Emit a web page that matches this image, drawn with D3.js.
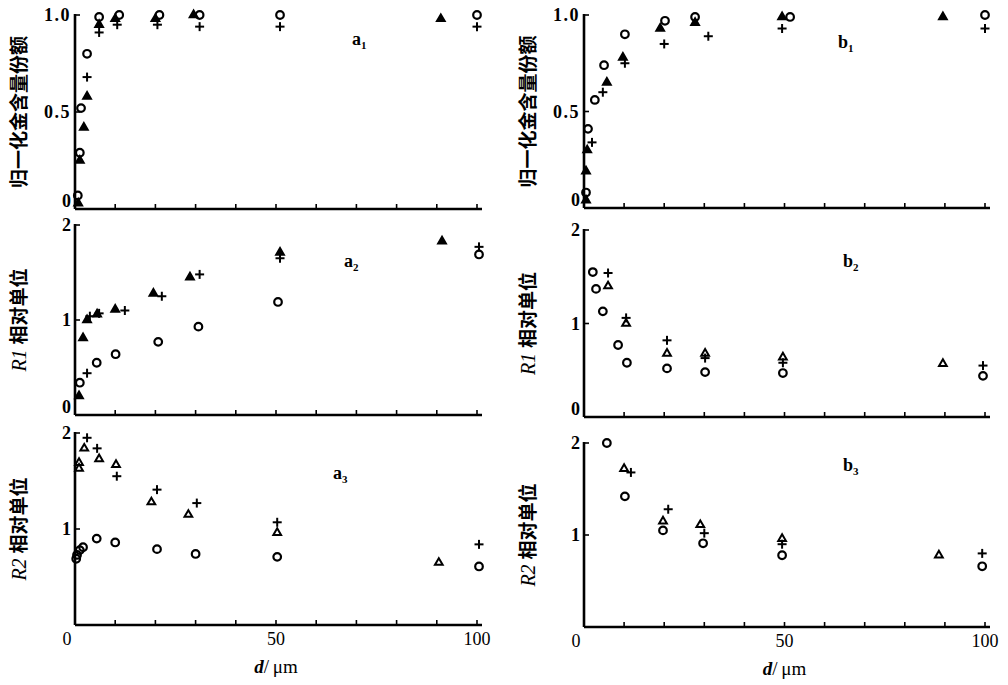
<!DOCTYPE html>
<html><head><meta charset="utf-8">
<script src="https://cdn.jsdelivr.net/npm/d3@7"></script>
<style>body{margin:0;background:#fff}svg{display:block}</style>
</head><body>
<svg id="c" width="1008" height="685"></svg>
<script>
// ---- data: [d (μm), value] ----
const a1Circle = [[0.7,0.07],[1.2,0.29],[1.5,0.52],[3,0.80],[6,0.99],[11,1.0],[21,1.0],[31,1.0],[51,1.0],[100,1.0]];
const a1Tri    = [[0.8,0.03],[1.2,0.25],[2.2,0.42],[3,0.58],[6,0.95],[10,0.98],[20,0.98],[29.5,1.0],[91,0.98]];
const a1Plus   = [[3,0.68],[6,0.91],[10.5,0.95],[20.5,0.95],[31,0.94],[51,0.94],[100,0.94]];

const a2Circle = [[1.2,0.34],[5.4,0.55],[10.1,0.64],[20.7,0.77],[30.7,0.93],[50.5,1.19],[100.5,1.69]];
const a2Tri    = [[1,0.2],[2,0.81],[3,1.0],[5.5,1.06],[10,1.11],[19.5,1.28],[28.6,1.45],[51,1.71],[91.3,1.83]];
const a2Plus   = [[3,0.44],[3.7,1.04],[6,1.07],[12.4,1.10],[21.6,1.25],[31,1.48],[51,1.65],[100.5,1.77]];

const a3Circle = [[0.3,0.69],[0.5,0.73],[1.2,0.78],[2,0.81],[5.4,0.90],[10,0.86],[20.4,0.79],[30,0.74],[50.3,0.71],[100.5,0.61]];
const a3Tri    = [[1,1.63],[1,1.69],[2.3,1.84],[6,1.73],[10.2,1.67],[19,1.28],[28.2,1.15],[50.3,0.96],[90.5,0.65]];
const a3Plus   = [[3,1.95],[5.5,1.84],[10.4,1.55],[20.4,1.41],[30.3,1.27],[50.3,1.07],[100.5,0.84]];

const b1Circle = [[0.5,0.08],[1,0.41],[2.7,0.56],[5,0.74],[10.2,0.90],[20.2,0.97],[27.7,0.99],[51.4,0.99],[100,1.0]];
const b1Tri    = [[0.5,0.04],[0.5,0.19],[0.8,0.30],[5.7,0.65],[9.7,0.78],[19,0.93],[27.7,0.96],[49.4,0.99],[89.5,0.99]];
const b1Plus   = [[2,0.34],[4.7,0.60],[10.2,0.75],[20,0.85],[31,0.89],[49.4,0.93],[100,0.93]];

const b2Circle = [[2.2,1.55],[3,1.37],[4.7,1.13],[8.5,0.77],[10.7,0.58],[20.7,0.52],[30.2,0.48],[49.6,0.47],[99.5,0.44]];
const b2Tri    = [[6,1.40],[10.5,1.0],[20.7,0.68],[30.2,0.68],[49.6,0.64],[89.5,0.57]];
const b2Plus   = [[6,1.54],[10.5,1.06],[20.7,0.82],[30.2,0.63],[49.6,0.58],[99.5,0.55]];

const b3Circle = [[5.7,2.0],[10.2,1.42],[19.7,1.05],[29.7,0.91],[49.4,0.78],[99.3,0.66]];
const b3Tri    = [[10,1.72],[19.7,1.15],[29,1.11],[49.4,0.96],[88.5,0.78]];
const b3Plus   = [[11.7,1.68],[21,1.28],[30,1.02],[49.4,0.90],[99.3,0.80]];

const xTickLabels = ["0","50","100"];
const xTickVals = [0,50,100];
const yLabelFrac = "归一化金含量份额";
const yLabelR1 = "相对单位";
const yLabelR2 = "相对单位";

// ---- drawing ----
const svg = d3.select("#c");
const serif = "'Liberation Serif','DejaVu Serif',serif";
const cjk = "'Noto Sans CJK SC','Noto Sans CJK JP',sans-serif";

function panel(o){
  const x = d3.scaleLinear().domain([0,100]).range([o.x0,o.x1]);
  const y = d3.scaleLinear().domain(o.yDomain).range([o.yb,o.yt]);
  const g = svg.append("g");
  g.append("line").attr("x1",o.x0).attr("x2",o.x1+5).attr("y1",o.yb).attr("y2",o.yb)
    .attr("stroke","#000").attr("stroke-width",2.6);
  g.append("line").attr("x1",o.x0).attr("x2",o.x0).attr("y1",o.yt-1).attr("y2",o.yb)
    .attr("stroke","#000").attr("stroke-width",2.6);
  d3.range(10,101,10).forEach(v=>{
    g.append("line").attr("x1",x(v)).attr("x2",x(v)).attr("y1",o.yb).attr("y2",o.yb-5)
      .attr("stroke","#000").attr("stroke-width",1.6);
  });
  o.yTicks.forEach((v,i)=>{
    if(v!==0) g.append("line").attr("x1",o.x0).attr("x2",o.x0+5).attr("y1",y(v)).attr("y2",y(v))
      .attr("stroke","#000").attr("stroke-width",1.6);
    g.append("text").attr("x",o.x0-4).attr("y",y(v)+ (v===0? -2:6))
      .attr("text-anchor","end").attr("font-family",serif).attr("font-size",18)
      .attr("font-weight","bold").attr("letter-spacing", o.yTickText[i].length>1?1.5:0)
      .text(o.yTickText[i]);
  });
  const lx = o.x0 - 54, ly = (o.yt+o.yb)/2;
  const t = g.append("text").attr("transform",`translate(${lx},${ly}) rotate(-90)`)
    .attr("text-anchor","middle").attr("dominant-baseline","middle")
    .attr("font-family",cjk).attr("font-size",19).attr("font-weight","bold");
  if(o.rLabel){
    t.append("tspan").attr("font-family",serif).attr("font-style","italic").attr("font-weight","normal")
      .attr("font-size",20).text(o.rLabel+" ");
    t.append("tspan").text(o.yLabel);
  } else t.text(o.yLabel);
  const pl = g.append("text").attr("x",o.lx).attr("y",o.ly).attr("font-family",serif)
    .attr("font-size",18).attr("font-weight","bold");
  pl.append("tspan").text(o.name[0]);
  pl.append("tspan").attr("font-size",11).attr("dy",4).text(o.name[1]);
  const tri = d3.symbol().type(d3.symbolTriangle).size(26);
  g.selectAll(".c").data(o.circle).join("circle")
    .attr("cx",d=>x(d[0])).attr("cy",d=>y(d[1])).attr("r",3.8)
    .attr("fill","none").attr("stroke","#000").attr("stroke-width",2.2);
  g.selectAll(".t").data(o.tri).join("path").attr("d",tri)
    .attr("transform",d=>`translate(${x(d[0])},${y(d[1])})`)
    .attr("fill",o.fillTri?"#000":"none").attr("stroke","#000").attr("stroke-width",2);
  const p = g.selectAll(".p").data(o.plus).join("g")
    .attr("transform",d=>`translate(${x(d[0])},${y(d[1])})`);
  p.append("line").attr("x1",-4.5).attr("x2",4.5).attr("stroke","#000").attr("stroke-width",2);
  p.append("line").attr("y1",-4.5).attr("y2",4.5).attr("stroke","#000").attr("stroke-width",2);
  return x;
}

const L = {x0:75, x1:477}, R = {x0:584, x1:985};
panel({...L, yt:15, yb:209, yDomain:[0,1], yTicks:[0,0.5,1], yTickText:["0","0.5","1.0"],
  yLabel:yLabelFrac, name:["a","1"], lx:352, ly:45, circle:a1Circle, tri:a1Tri, plus:a1Plus, fillTri:true});
panel({...L, yt:225, yb:415, yDomain:[0,2], yTicks:[0,1,2], yTickText:["0","1","2"],
  yLabel:yLabelR1, rLabel:"R1", name:["a","2"], lx:344, ly:267, circle:a2Circle, tri:a2Tri, plus:a2Plus, fillTri:true});
const xl = panel({...L, yt:433, yb:625, yDomain:[0,2], yTicks:[1,2], yTickText:["1","2"],
  yLabel:yLabelR2, rLabel:"R2", name:["a","3"], lx:333, ly:479, circle:a3Circle, tri:a3Tri, plus:a3Plus, fillTri:false});
panel({...R, yt:15, yb:208, yDomain:[0,1], yTicks:[0,0.5,1], yTickText:["0","0.5","1.0"],
  yLabel:yLabelFrac, name:["b","1"], lx:838, ly:48, circle:b1Circle, tri:b1Tri, plus:b1Plus, fillTri:true});
panel({...R, yt:230, yb:417, yDomain:[0,2], yTicks:[0,1,2], yTickText:["0","1","2"],
  yLabel:yLabelR1, rLabel:"R1", name:["b","2"], lx:843, ly:267, circle:b2Circle, tri:b2Tri, plus:b2Plus, fillTri:false});
const xr = panel({...R, yt:443, yb:627, yDomain:[0,2], yTicks:[1,2], yTickText:["1","2"],
  yLabel:yLabelR2, rLabel:"R2", name:["b","3"], lx:843, ly:471, circle:b3Circle, tri:b3Tri, plus:b3Plus, fillTri:false});

[[xl,L,625],[xr,R,627]].forEach(([x,o,yb])=>{
  xTickVals.forEach((v,i)=>{
    svg.append("text").attr("x", v===0? x(v)-8 : x(v)).attr("y",yb+20)
      .attr("text-anchor","middle").attr("font-family",serif).attr("font-size",18)
      .text(xTickLabels[i]);
  });
  const t = svg.append("text").attr("x",x(50)).attr("y",yb+48).attr("text-anchor","middle")
    .attr("font-family",serif).attr("font-size",19);
  t.append("tspan").attr("font-style","italic").attr("font-weight","bold").text("d");
  t.append("tspan").text("/\u2009μm");
});
</script>
</body></html>
